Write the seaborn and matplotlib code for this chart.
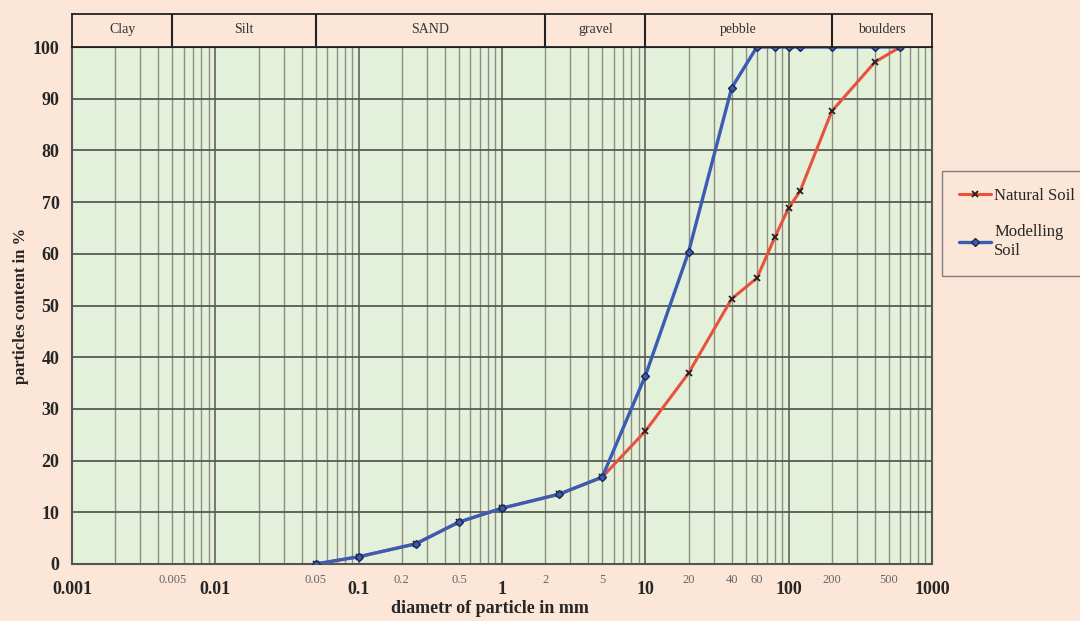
import numpy as np
import pandas as pd
import matplotlib
matplotlib.use("Agg")
import matplotlib.pyplot as plt
import matplotlib.ticker as mticker
import seaborn as sns

# ---- data ----
natural_d = [0.05, 0.1, 0.25, 0.5, 1, 2.5, 5, 10, 20, 40, 60, 80, 100, 120, 200, 400, 600]
natural_p = [0, 1.4, 3.9, 8.1, 10.8, 13.5, 16.8, 25.7, 36.9, 51.3, 55.3, 63.2, 68.9, 72.1, 87.6, 97.1, 100]
model_d = [0.05, 0.1, 0.25, 0.5, 1, 2.5, 5, 10, 20, 40, 60, 80, 100, 120, 200, 400, 600]
model_p = [0, 1.4, 3.9, 8.1, 10.8, 13.5, 16.8, 36.4, 60.3, 92.1, 100, 100, 100, 100, 100, 100, 100]

class_names = ["Clay", "Silt", "SAND", "gravel", "pebble", "boulders"]
class_bounds = [0.001, 0.005, 0.05, 2, 10, 200, 1000]

major_x = [0.001, 0.01, 0.1, 1, 10, 100, 1000]
major_x_labels = ["0.001", "0.01", "0.1", "1", "10", "100", "1000"]
minor_x_labeled = [0.005, 0.05, 0.2, 0.5, 2, 5, 20, 40, 60, 200, 500]
minor_x_labels = ["0.005", "0.05", "0.2", "0.5", "2", "5", "20", "40", "60", "200", "500"]
y_ticks = [0, 10, 20, 30, 40, 50, 60, 70, 80, 90, 100]

# ---- styling ----
fig_bg = "#fbe6d8"
ax_bg = "#e3f0da"
red = "#e8523c"
blue = "#3c5cb4"

sns.set_style("white")
plt.rcParams["font.family"] = ["Liberation Serif", "DejaVu Serif"]

fig = plt.figure(figsize=(10.8, 6.21), dpi=100, facecolor=fig_bg)
ax = fig.add_axes([0.0667, 0.0918, 0.7963, 0.8325])
ax.set_facecolor(ax_bg)

df_nat = pd.DataFrame({"d": natural_d, "p": natural_p, "s": "Natural Soil"})
df_mod = pd.DataFrame({"d": model_d, "p": model_p, "s": "Modelling\nSoil"})

sns.lineplot(data=df_nat, x="d", y="p", ax=ax, color=red, lw=2.2,
             marker="x", markersize=5, markeredgecolor="#222222",
             markeredgewidth=1.3, label="Natural Soil", zorder=4)
sns.lineplot(data=df_mod, x="d", y="p", ax=ax, color=blue, lw=2.4,
             marker="D", markersize=4.5, markeredgecolor="#1a2a55",
             markerfacecolor=blue, markeredgewidth=1.0,
             label="Modelling\nSoil", zorder=5)

ax.set_xscale("log")
ax.set_xlim(0.001, 1000)
ax.set_ylim(0, 100)

# x ticks
ax.xaxis.set_major_locator(mticker.FixedLocator(major_x))
ax.xaxis.set_major_formatter(mticker.FixedFormatter(major_x_labels))
ax.xaxis.set_minor_locator(mticker.LogLocator(base=10, subs=np.arange(2, 10), numticks=30))
lab_map = {round(v, 6): l for v, l in zip(minor_x_labeled, minor_x_labels)}
ax.xaxis.set_minor_formatter(mticker.FuncFormatter(
    lambda v, pos: lab_map.get(round(v, 6), "")))
ax.tick_params(axis="x", which="major", length=5, pad=7, labelsize=13,
               color="#555555")
ax.tick_params(axis="x", which="minor", length=0, pad=7, labelsize=9,
               labelcolor="#666666")
for t in ax.get_xticklabels():
    t.set_fontweight("bold")

# y ticks
ax.set_yticks(y_ticks)
ax.yaxis.set_minor_locator(mticker.MultipleLocator(1))
ax.tick_params(axis="y", which="major", length=6, labelsize=13, color="#555555", pad=3)
ax.tick_params(axis="y", which="minor", length=4, color="#555555")
for t in ax.get_yticklabels():
    t.set_fontweight("bold")

# grids
ax.grid(True, which="minor", axis="x", color="#8d8d80", lw=1.0)
ax.grid(True, which="major", axis="x", color="#6e6e64", lw=1.3)
ax.grid(True, which="major", axis="y", color="#5a5a55", lw=1.3)
ax.set_axisbelow(True)

for side in ["left", "bottom", "right"]:
    ax.spines[side].set_visible(True)
    ax.spines[side].set_color("#555555")
    ax.spines[side].set_linewidth(1.5)
ax.spines["top"].set_color("#111111")
ax.spines["top"].set_linewidth(1.5)

ax.set_xlabel("diametr of particle in mm", fontsize=13, fontweight="bold", labelpad=-2)
ax.xaxis.set_label_coords(0.486, -0.07)
ax.set_ylabel("particles content in %", fontsize=12, fontweight="bold")
ax.yaxis.set_label_coords(-0.05, 0.5)

# header band with soil classes
hax = fig.add_axes([0.0667, 0.9243, 0.7963, 0.0532], sharex=ax)
hax.set_facecolor(fig_bg)
hax.set_ylim(0, 1)
for b in class_bounds[1:-1]:
    hax.axvline(b, color="#222222", lw=1.5)
for name, a, b in zip(class_names, class_bounds[:-1], class_bounds[1:]):
    hax.text(np.sqrt(a * b), 0.52, name, ha="center", va="center", fontsize=10,
             color="#333333")
hax.tick_params(which="both", bottom=False, left=False, labelbottom=False, labelleft=False)
for side in hax.spines.values():
    side.set_visible(True)
    side.set_color("#222222")
    side.set_linewidth(1.3)

# legend
leg = ax.legend(loc="upper left", bbox_to_anchor=(1.012, 0.76), frameon=True,
                fancybox=False, edgecolor="#666666", facecolor=fig_bg,
                fontsize=12, handlelength=1.9, labelspacing=1.2, borderpad=1.0,
                handletextpad=0.2, borderaxespad=0)
leg.get_frame().set_linewidth(1.0)
for t in leg.get_texts():
    t.set_linespacing(1.3)

fig.savefig("out.png", dpi=100, facecolor=fig_bg)
